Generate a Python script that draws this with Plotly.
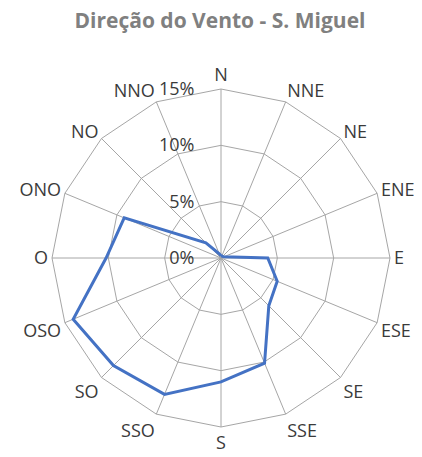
import plotly.graph_objects as go

direcoes = ["N", "NNE", "NE", "ENE", "E", "ESE", "SE", "SSE",
            "S", "SSO", "SO", "OSO", "O", "ONO", "NO", "NNO"]
frequencia = [0.2, 0.2, 0.2, 0.3, 4.15, 5.4, 6.0, 10.1,
              11.0, 13.1, 13.5, 14.2, 10.2, 9.3, 1.9, 0.4]

fig = go.Figure()
fig.add_trace(go.Scatterpolar(
    r=frequencia + frequencia[:1],
    theta=direcoes + direcoes[:1],
    mode='lines',
    line=dict(color='#4472C4', width=3),
    hoverinfo='theta+r'
))

# page body has an 8px margin, so shift everything up/left by 8
off = 8
cx, cy, rad = 221 - off, 258 - off, 169
W, H = 422, 457
top = 45
ph = H - top  # plot area height
fig.update_layout(
    width=W, height=H,
    margin=dict(l=0, r=0, t=top, b=0),
    paper_bgcolor='white',
    showlegend=False,
    title=dict(text='<b>Direção do Vento - S. Miguel</b>', x=(220 - off) / W, xanchor='center',
               y=1 - 5 / H, yanchor='top',
               font=dict(family='Open Sans', size=21, color='#808080')),
    font=dict(family='Open Sans', size=18, color='#404040'),
    polar=dict(
        domain=dict(x=[(cx - rad) / W, (cx + rad) / W],
                    y=[(H - cy - rad) / ph, (H - cy + rad) / ph]),
        bgcolor='white',
        gridshape='linear',
        radialaxis=dict(range=[0, 15], dtick=5,
                        ticksuffix='%' + '\u00a0' * 5, angle=90,
                        tickangle=90, side='counterclockwise', showline=False,
                        ticks='', gridcolor='#a6a6a6', gridwidth=1,
                        tickfont=dict(size=18, color='#3a3a3a')),
        angularaxis=dict(direction='clockwise', rotation=90, ticks='',
                         showline=True, linecolor='#a6a6a6', linewidth=1,
                         gridcolor='#a6a6a6', gridwidth=1,
                         tickfont=dict(size=18, color='#3a3a3a'))
    )
)
fig.write_html("out.html")
